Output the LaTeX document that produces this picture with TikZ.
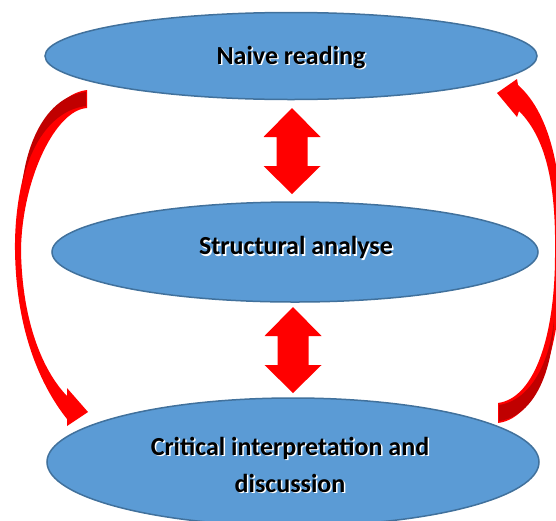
\documentclass[tikz,border=0pt]{standalone}
\usepackage{fontspec}
\setmainfont{Carlito}
\usepackage{tikz}
\usetikzlibrary{shapes.geometric}

\definecolor{blobfill}{HTML}{5B9BD5}
\definecolor{blobline}{HTML}{41719C}
\definecolor{arrowred}{HTML}{FF0000}
\definecolor{arrowdark}{HTML}{C00000}

\tikzset{
    blob/.style={ellipse, draw=blobline, fill=blobfill, line width=1.5pt, inner sep=0pt},
    caption/.style={font=\bfseries\fontsize{26}{37}\selectfont, align=center, inner sep=0pt},
    glow/.style={caption, text=white},
}

\begin{document}
\begin{tikzpicture}[x=1pt, y=-1pt]
        \useasboundingbox (0,0) rectangle (556,520);
        % Draw ellipses
        \node [blob, minimum width=492pt, minimum height=87pt] (naive) at (291,56) {};
        \node [blob, minimum width=486pt, minimum height=100pt] (structural) at (295,252) {};
        \node [blob, minimum width=492pt, minimum height=128pt] (critical) at (293,462) {};
        % Draw texts with their light shadow
        \node [glow] (naiveglow) at ([shift={(1.5,3)}]naive.center) {Naive reading};
        \node [caption] (naivetext) at ([shift={(0,1.5)}]naive.center) {Naive reading};
        \node [glow] (structuralglow) at ([shift={(2.5,-3)}]structural.center) {Structural analyse};
        \node [caption] (structuraltext) at ([shift={(1,-4.5)}]structural.center) {Structural analyse};
        \node [glow] (criticalglow) at ([shift={(-1.5,4)}]critical.center) {Critical interpretation and\\discussion};
        \node [caption] (criticaltext) at ([shift={(-3,2.5)}]critical.center) {Critical interpretation and\\discussion};
        % Draw double arrows
        \foreach \cx/\ya/\yb in {292/108/194, 293/307/393} {
            \fill [arrowred] (\cx,\ya) -- (\cx+28.5,\ya+29) -- (\cx+15.5,\ya+29) -- (\cx+15.5,\yb-28)
                -- (\cx+28.5,\yb-28) -- (\cx,\yb) -- (\cx-28.5,\yb-28) -- (\cx-15.5,\yb-28)
                -- (\cx-15.5,\ya+29) -- (\cx-28.5,\ya+29) -- cycle;
        }
        % Left curved arrow
        \fill [arrowred] (87,90) .. controls (45,95) and (14,170) .. (15,250)
            .. controls (16,330) and (40,385) .. (67,419)
            -- (67,426) -- (88,412) -- (67,388) -- (67,396)
            .. controls (42,370) and (22,320) .. (21,250)
            .. controls (22,180) and (55,110) .. (87,108) -- cycle;
        \fill [arrowdark] (86,92) .. controls (50,96) and (28,135) .. (22,185)
            .. controls (30,145) and (52,110) .. (86,106) -- cycle;
        % Right curved arrow
        \fill [arrowred] (498,423) .. controls (540,418) and (562,340) .. (562,255)
            .. controls (564,180) and (552,115) .. (518,85)
            -- (517,79) -- (497,93) -- (517,117) -- (519,111)
            .. controls (548,140) and (556,190) .. (555,255)
            .. controls (555,335) and (535,398) .. (498,403) -- cycle;
        \fill [arrowdark] (499,405) .. controls (532,400) and (550,360) .. (554,320)
            .. controls (553,370) and (535,416) .. (499,421) -- cycle;
    \end{tikzpicture}
\end{document}
